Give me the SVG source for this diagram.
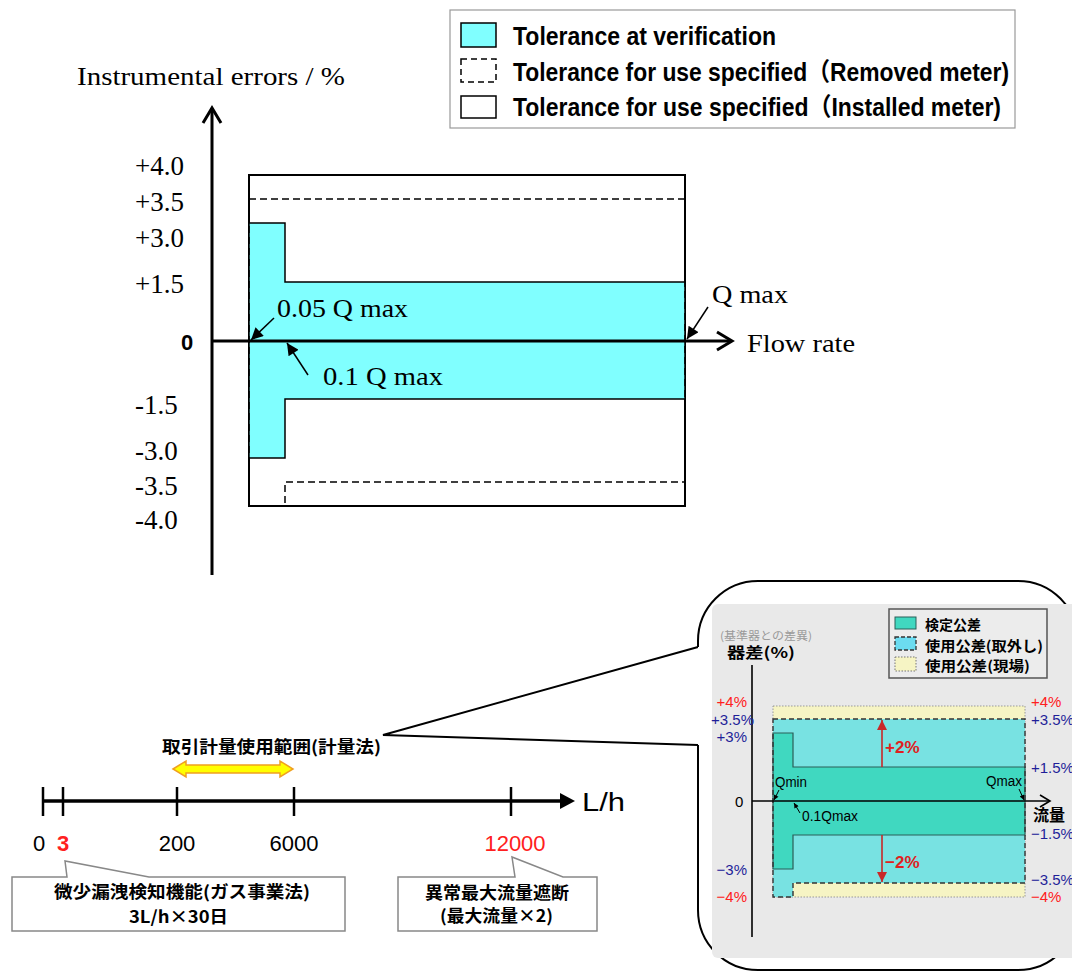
<svg xmlns="http://www.w3.org/2000/svg" width="1072" height="972" viewBox="0 0 1072 972">
<defs>
<style>
.serif{font-family:"Liberation Serif","Times New Roman",serif;fill:#000}
.leg{font-family:"Liberation Sans","Noto Sans CJK JP",sans-serif;font-weight:bold;font-size:25px;fill:#000}
.jp{font-family:"Noto Sans CJK JP","Liberation Sans",sans-serif;fill:#000}
.b{font-weight:bold}
.sans{font-family:"Liberation Sans",Arial,"Noto Sans CJK JP",sans-serif}
.lab{font-family:"Liberation Sans",Arial,sans-serif;font-size:15px}
.blue{fill:#1f1f99}
.red{fill:#ff2020}
.k{stroke:#000;fill:none}
</style>
<marker id="ah" viewBox="0 0 10 10" refX="10" refY="5" markerWidth="15" markerHeight="12" markerUnits="userSpaceOnUse" orient="auto"><path d="M0,0 L10,5 L0,10 z" fill="#000"/></marker>
<marker id="ahs" viewBox="0 0 10 10" refX="10" refY="5" markerWidth="6" markerHeight="5" markerUnits="userSpaceOnUse" orient="auto"><path d="M0,0 L10,5 L0,10 z" fill="#000"/></marker>
<marker id="ahr" viewBox="0 0 10 10" refX="10" refY="5" markerWidth="11" markerHeight="10" markerUnits="userSpaceOnUse" orient="auto"><path d="M0,0 L10,5 L0,10 z" fill="#c82828"/></marker>
</defs>
<rect width="1072" height="972" fill="#fff"/>

<g id="legend">
<rect x="450" y="10" width="565" height="118" fill="#fff" stroke="#999" stroke-width="1.2"/>
<rect x="461" y="23" width="35" height="24" fill="#80ffff" stroke="#000" stroke-width="1.5"/>
<text x="513" y="45" class="leg" textLength="263" lengthAdjust="spacingAndGlyphs">Tolerance at verification</text>
<rect x="461" y="59" width="35" height="23" fill="#fff" stroke="#000" stroke-width="1.5" stroke-dasharray="6,4"/>
<text x="513" y="81" class="leg" textLength="496" lengthAdjust="spacingAndGlyphs">Tolerance for use specified（Removed meter)</text>
<rect x="461" y="96" width="35" height="22" fill="#fff" stroke="#000" stroke-width="1.5"/>
<text x="513" y="116" class="leg" textLength="488" lengthAdjust="spacingAndGlyphs">Tolerance for use specified（Installed meter)</text>
</g>

<g id="installed-meter">
<rect x="249" y="175" width="436" height="331" fill="#fff" stroke="#000" stroke-width="2"/>
</g>
<g id="verification">
<path d="M249 223 H285 V282 H685 V399 H285 V458 H249 Z" fill="#80ffff" stroke="#000" stroke-width="1.5"/>
</g>
<g id="removed-meter">
<path d="M249 199 H685 V482 H285 V506 H249 Z" fill="none" stroke="#000" stroke-width="1.5" stroke-dasharray="7,4"/>
</g>

<g id="top-axes">
<line x1="212" y1="108" x2="212" y2="575" stroke="#000" stroke-width="3"/>
<polyline points="203,123 212,108 221,123" class="k" stroke-width="3"/>
<line x1="212" y1="341" x2="731" y2="341" stroke="#000" stroke-width="3"/>
<polyline points="717,332 732,341 717,350" class="k" stroke-width="3"/>
<text x="77" y="85" class="serif" font-size="26" textLength="268" lengthAdjust="spacingAndGlyphs">Instrumental errors / %</text>
<text x="747" y="352" class="serif" font-size="26" textLength="108" lengthAdjust="spacingAndGlyphs">Flow rate</text>
</g>

<g id="top-ticks" class="serif" font-size="27">
<text x="135" y="175">+4.0</text>
<text x="135" y="211">+3.5</text>
<text x="135" y="247">+3.0</text>
<text x="135" y="293">+1.5</text>
<text x="181" y="350" style="font-family:'Liberation Sans',Arial,sans-serif;font-size:22px;font-weight:bold">0</text>
<text x="135" y="414">-1.5</text>
<text x="135" y="460">-3.0</text>
<text x="135" y="495">-3.5</text>
<text x="135" y="529">-4.0</text>
</g>

<g id="top-labels" class="serif" font-size="26">
<text x="277" y="317" textLength="131" lengthAdjust="spacingAndGlyphs">0.05 Q max</text>
<text x="323" y="385" textLength="120" lengthAdjust="spacingAndGlyphs">0.1 Q max</text>
<text x="712" y="303" textLength="76" lengthAdjust="spacingAndGlyphs">Q max</text>
</g>

<g id="connectors">
<line x1="274" y1="318" x2="251" y2="340" stroke="#000" stroke-width="1.5" marker-end="url(#ah)"/>
<line x1="308" y1="375" x2="287" y2="343" stroke="#000" stroke-width="1.5" marker-end="url(#ah)"/>
<line x1="708" y1="307" x2="687" y2="339" stroke="#000" stroke-width="1.5" marker-end="url(#ah)"/>
<path d="M698 647 L383 735 L698 745" fill="none" stroke="#000" stroke-width="2"/>
</g>

<g id="flow-line">
<line x1="43" y1="801" x2="562" y2="801" stroke="#000" stroke-width="3.5"/>
<polygon points="575,801 560,793 560,809" fill="#000"/>
<g stroke="#000" stroke-width="2.5">
<line x1="43" y1="787" x2="43" y2="816"/>
<line x1="63" y1="787" x2="63" y2="816"/>
<line x1="177" y1="787" x2="177" y2="816"/>
<line x1="294" y1="787" x2="294" y2="816"/>
<line x1="511" y1="787" x2="511" y2="816"/>
</g>
<text x="582" y="811" class="sans" font-size="26" textLength="43" lengthAdjust="spacingAndGlyphs">L/h</text>
<text x="33" y="851" class="sans" font-size="22">0</text>
<text x="57" y="851" class="sans b red" font-size="22">3</text>
<text x="177" y="851" class="sans" font-size="22" text-anchor="middle">200</text>
<text x="294" y="851" class="sans" font-size="22" text-anchor="middle">6000</text>
<text x="515" y="851" class="sans red" font-size="22" text-anchor="middle">12000</text>
</g>

<g id="range-arrow">
<polygon points="173,769 186,761 186,765 280,765 280,761 293,769 280,777 280,773 186,773 186,777" fill="#ffff00" stroke="#f0a020" stroke-width="1.5"/>
<text x="162" y="753" class="jp b" font-size="17" textLength="219" lengthAdjust="spacingAndGlyphs">取引計量使用範囲(計量法)</text>
</g>

<g id="callout-leak">
<path d="M12 877 H67 L65 861 L149 877 H345 V931 H12 Z" fill="#fff" stroke="#888" stroke-width="1.5"/>
<text x="54" y="898" class="jp b" font-size="17" textLength="256" lengthAdjust="spacingAndGlyphs">微少漏洩検知機能(ガス事業法)</text>
<text x="129" y="923" class="jp b" font-size="17" textLength="99" lengthAdjust="spacingAndGlyphs">3L/h×30日</text>
</g>

<g id="callout-max">
<path d="M398 877 H515 L512 857 L563 877 H597 V931 H398 Z" fill="#fff" stroke="#888" stroke-width="1.5"/>
<text x="425" y="899" class="jp b" font-size="17" textLength="144" lengthAdjust="spacingAndGlyphs">異常最大流量遮断</text>
<text x="440" y="922" class="jp b" font-size="17" textLength="113" lengthAdjust="spacingAndGlyphs">(最大流量×2)</text>
</g>

<g id="inset">
<path d="M698 745 L698 910 A60 60 0 0 0 758 970 L1018 970 A60 60 0 0 0 1078 910 L1078 641 A60 60 0 0 0 1018 581 L758 581 A60 60 0 0 0 698 641 L698 647" fill="#fff" stroke="#000" stroke-width="2"/>
<rect x="712" y="604" width="366" height="354" rx="6" fill="#e9e9e9"/>
<rect x="889" y="609" width="158" height="69" fill="#ececec" stroke="#555" stroke-width="1.5"/>
<rect x="895" y="617" width="21" height="12" fill="#40d8c0" stroke="#2b5e58" stroke-width="1"/>
<rect x="895" y="637" width="21" height="13" fill="#6cdcf0" stroke="#333" stroke-width="1.3" stroke-dasharray="4,2"/>
<rect x="895" y="657" width="21" height="14" fill="#f6f4c4" stroke="#777" stroke-width="1" stroke-dasharray="1.5,1.5"/>
<text x="925" y="630" class="jp b" font-size="14">検定公差</text>
<text x="925" y="651" class="jp b" font-size="14" textLength="118" lengthAdjust="spacingAndGlyphs">使用公差(取外し)</text>
<text x="925" y="671" class="jp b" font-size="14" textLength="105" lengthAdjust="spacingAndGlyphs">使用公差(現場)</text>
<text x="720" y="640" class="jp" font-size="11" style="fill:#999" textLength="92" lengthAdjust="spacingAndGlyphs">(基準器との差異)</text>
<text x="727" y="658" class="jp b" font-size="15" textLength="68" lengthAdjust="spacingAndGlyphs">器差(%)</text>

<rect x="773" y="706" width="252" height="191" fill="#f6f4c4" stroke="#999" stroke-width="1" stroke-dasharray="1.5,1.5"/>
<path d="M773 719 H1025 V883 H793 V897 H773 Z" fill="#78e2e2"/>
<path d="M773 733 H793 V767 H1025 V835 H793 V869 H773 Z" fill="#40d8c0" stroke="#2b5e58" stroke-width="1.2"/>
<path d="M773 719 H1025 V883 H793 V897 H773 Z" fill="none" stroke="#333" stroke-width="1.4" stroke-dasharray="5,3"/>

<line x1="752" y1="665" x2="752" y2="937" stroke="#000" stroke-width="1.6"/>
<line x1="752" y1="801" x2="1049" y2="801" stroke="#000" stroke-width="1.6"/>
<polyline points="1040,795 1050,801 1040,807" class="k" stroke-width="1.6"/>

<line x1="882" y1="767" x2="882" y2="720" stroke="#c82828" stroke-width="1.6" marker-end="url(#ahr)"/>
<line x1="882" y1="835" x2="882" y2="882" stroke="#c82828" stroke-width="1.6" marker-end="url(#ahr)"/>
<text x="885" y="753" class="sans b" font-size="17" fill="#e02020">+2%</text>
<text x="885" y="868" class="sans b" font-size="17" fill="#e02020">−2%</text>

<text x="775" y="787" class="sans" font-size="14" textLength="32" lengthAdjust="spacingAndGlyphs">Qmin</text>
<line x1="779" y1="790" x2="774" y2="800" stroke="#000" stroke-width="1" marker-end="url(#ahs)"/>
<text x="802" y="821" class="sans" font-size="14" textLength="56" lengthAdjust="spacingAndGlyphs">0.1Qmax</text>
<line x1="800" y1="813" x2="794" y2="803" stroke="#000" stroke-width="1" marker-end="url(#ahs)"/>
<text x="986" y="786" class="sans" font-size="14" textLength="36" lengthAdjust="spacingAndGlyphs">Qmax</text>
<line x1="1019" y1="789" x2="1024" y2="800" stroke="#000" stroke-width="1" marker-end="url(#ahs)"/>

<g class="lab">
<text x="747" y="707" text-anchor="end" class="red">+4%</text>
<text x="754" y="725" text-anchor="end" class="blue">+3.5%</text>
<text x="747" y="742" text-anchor="end" class="blue">+3%</text>
<text x="735" y="807">0</text>
<text x="747" y="875" text-anchor="end" class="blue">−3%</text>
<text x="747" y="902" text-anchor="end" class="red">−4%</text>
<text x="1031" y="707" class="red">+4%</text>
<text x="1031" y="725" class="blue">+3.5%</text>
<text x="1031" y="773" class="blue">+1.5%</text>
<text x="1031" y="839" class="blue">−1.5%</text>
<text x="1031" y="885" class="blue">−3.5%</text>
<text x="1031" y="902" class="red">−4%</text>
</g>
<text x="1033" y="821" class="jp b" font-size="16">流量</text>
</g>
</svg>
